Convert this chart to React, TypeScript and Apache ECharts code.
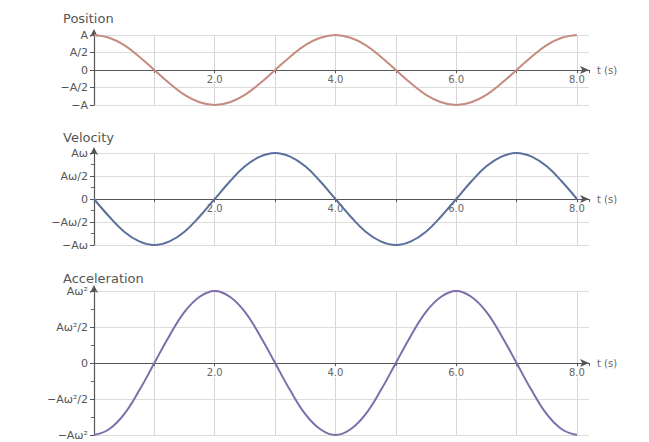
import React, { useEffect, useRef } from "react";
import * as echarts from "echarts";

const tValues = [
  0, 0.25, 0.5, 0.75, 1, 1.25, 1.5, 1.75, 2, 2.25, 2.5, 2.75, 3, 3.25, 3.5, 3.75, 4,
  4.25, 4.5, 4.75, 5, 5.25, 5.5, 5.75, 6, 6.25, 6.5, 6.75, 7, 7.25, 7.5, 7.75, 8,
];
const positionValues = [
  1, 0.92, 0.71, 0.38, 0, -0.38, -0.71, -0.92, -1, -0.92, -0.71, -0.38, 0, 0.38, 0.71, 0.92, 1,
  0.92, 0.71, 0.38, 0, -0.38, -0.71, -0.92, -1, -0.92, -0.71, -0.38, 0, 0.38, 0.71, 0.92, 1,
];
const velocityValues = [
  0, -0.38, -0.71, -0.92, -1, -0.92, -0.71, -0.38, 0, 0.38, 0.71, 0.92, 1, 0.92, 0.71, 0.38, 0,
  -0.38, -0.71, -0.92, -1, -0.92, -0.71, -0.38, 0, 0.38, 0.71, 0.92, 1, 0.92, 0.71, 0.38, 0,
];
const accelerationValues = [
  -1, -0.92, -0.71, -0.38, 0, 0.38, 0.71, 0.92, 1, 0.92, 0.71, 0.38, 0, -0.38, -0.71, -0.92, -1,
  -0.92, -0.71, -0.38, 0, 0.38, 0.71, 0.92, 1, 0.92, 0.71, 0.38, 0, -0.38, -0.71, -0.92, -1,
];
const gridTimes = [1, 2, 3, 4, 5, 6, 7, 8];
const panelTitles = ["Position", "Velocity", "Acceleration"];
const positionTicks = ["−A", "−A/2", "0", "A/2", "A"];
const velocityTicks = ["−Aω", "−Aω/2", "0", "Aω/2", "Aω"];
const accelerationTicks = ["−Aω²", "−Aω²/2", "0", "Aω²/2", "Aω²"];
const xTickLabels: Record<string, string> = { "2": "2.0", "4": "4.0", "6": "6.0", "8": "8.0" };
const xName = "t (s)";

const panelColors = ["#c58a80", "#5b6f9c", "#7f6dab"];
const FONT = "DejaVu Sans";

export default function App() {
  const ref = useRef<HTMLDivElement>(null);
  useEffect(() => {
    if (!ref.current) return;
    const chart = echarts.init(ref.current, undefined, { renderer: "svg" });
    const grids = [
      { left: 94, top: 35, width: 495, height: 70 },
      { left: 94, top: 153, width: 495, height: 92 },
      { left: 94, top: 291, width: 495, height: 144 },
    ];
    const tickSets = [positionTicks, velocityTicks, accelerationTicks];
    const valueSets = [positionValues, velocityValues, accelerationValues];
    const titleTops = [7, 126, 267];

    const option: any = {
      animation: false,
      backgroundColor: "#ffffff",
      title: panelTitles.map((t, i) => ({
        text: t,
        left: 58,
        top: titleTops[i],
        textStyle: { fontFamily: FONT, fontSize: 13, fontWeight: "normal", color: "#555" },
      })),
      grid: grids,
      xAxis: grids.map((g, i) => ({
        type: "value",
        gridIndex: i,
        position: "bottom",
        offset: -g.height / 2,
        z: 1,
        min: 0,
        max: 8.2,
        interval: 1,
        name: xName,
        nameLocation: "end",
        nameGap: 8,
        nameTextStyle: { fontFamily: FONT, fontSize: 10, color: "#666" },
        axisLine: {
          onZero: false,
          symbol: ["none", "arrow"],
          symbolSize: [6, 9],
          lineStyle: { color: "#555", width: 1.2 },
        },
        axisTick: { show: true, length: 3, lineStyle: { color: "#555" } },
        axisLabel: {
          fontFamily: FONT,
          fontSize: 10,
          color: "#666",
          margin: 4,
          backgroundColor: "#ffffff",
          padding: [0, 1],
          formatter: (v: number) => xTickLabels[String(v)] || "",
        },
        splitLine: { show: false },
      })),
      yAxis: grids.map((_, i) => ({
        type: "value",
        gridIndex: i,
        min: -1,
        max: 1,
        interval: 0.5,
        axisLine: {
          show: true,
          onZero: false,
          symbol: ["none", "arrow"],
          symbolSize: [6, 8],
          symbolOffset: [0, 6],
          lineStyle: { color: "#555", width: 1.2 },
        },
        axisTick: { show: true, length: 4, lineStyle: { color: "#555" } },
        minorTick: { show: i > 0, splitNumber: 2, length: 3, lineStyle: { color: "#666" } },
        axisLabel: {
          fontFamily: FONT,
          fontSize: 11,
          color: "#555",
          margin: 6,
          formatter: (v: number) => {
            const idx = Math.round((v + 1) / 0.5);
            return tickSets[i][idx] ?? "";
          },
        },
        splitLine: { show: true, lineStyle: { color: "#dcdcdc", width: 1 } },
      })),
      series: valueSets.map((vals, i) => ({
        type: "line",
        xAxisIndex: i,
        yAxisIndex: i,
        data: tValues.map((t, k) => [t, vals[k]]),
        smooth: 0.4,
        showSymbol: false,
        lineStyle: { color: panelColors[i], width: 2 },
        z: 3,
        markLine: {
          silent: true,
          symbol: ["none", "none"],
          label: { show: false },
          lineStyle: { color: "#d6d6d6", type: "solid", width: 1 },
          data: gridTimes.map((t) => ({ xAxis: t })),
          z: 0,
        },
      })),
    };
    chart.setOption(option);
    return () => chart.dispose();
  }, []);
  return (
    <div
      ref={ref}
      style={{ position: "fixed", left: 0, top: 0, width: 649, height: 442, background: "#fff" }}
    />
  );
}
